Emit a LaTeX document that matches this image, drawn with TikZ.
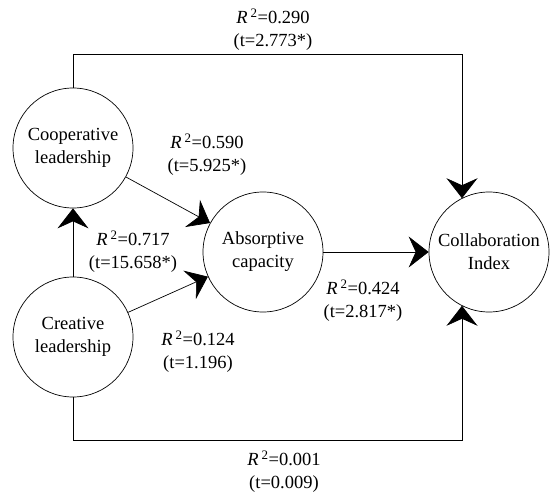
\documentclass[tikz,border=0pt]{standalone}
\usepackage{fontspec}
\setmainfont{Liberation Serif}
\usetikzlibrary{arrows.meta,positioning}

\begin{document}
\begin{tikzpicture}[
  x=1pt, y=-1pt, >={Stealth[length=20pt, width=31pt, inset=7pt]},
  every node/.style={font=\fontsize{18.5}{23}\selectfont, align=center},
  construct/.style={draw, circle, minimum size=120pt, inner sep=0pt, line width=0.7pt},
  path/.style={->, line width=0.7pt},
  coef/.style={inner sep=0pt}
]
  \useasboundingbox (0,0) rectangle (554,497);
  \node[construct] (coop) at (73, 148) {Cooperative\\leadership};
  \node[construct] (crea) at (73, 337) {Creative\\leadership};
  \node[construct] (absorb) at (263, 252) {Absorptive\\capacity};
  \node[construct] (collab) at (489, 252) {Collaboration\\Index};

  \coordinate (topright) at (462, 54);
  \coordinate (botright) at (462, 440);

  \draw[path] (coop.north) |- (topright) -- (topright |- collab.117);
  \draw[path] (crea.south) |- (botright) -- (botright |- collab.243);
  \draw[path] (crea) -- (coop);
  \draw[path] (coop) -- (absorb);
  \draw[path] (crea) -- (absorb);
  \draw[path] (absorb) -- (collab);

  \node[coef] at (273, 30) {{\itshape R}\,\textsuperscript{2}=0.290\\(t=2.773*)};
  \node[coef] at (207, 155) {{\itshape R}\,\textsuperscript{2}=0.590\\(t=5.925*)};
  \node[coef] at (133, 252) {{\itshape R}\,\textsuperscript{2}=0.717\\(t=15.658*)};
  \node[coef] at (363, 301) {{\itshape R}\,\textsuperscript{2}=0.424\\(t=2.817*)};
  \node[coef] at (198, 352) {{\itshape R}\,\textsuperscript{2}=0.124\\(t=1.196)};
  \node[coef] at (284, 472) {{\itshape R}\,\textsuperscript{2}=0.001\\(t=0.009)};
\end{tikzpicture}
\end{document}
